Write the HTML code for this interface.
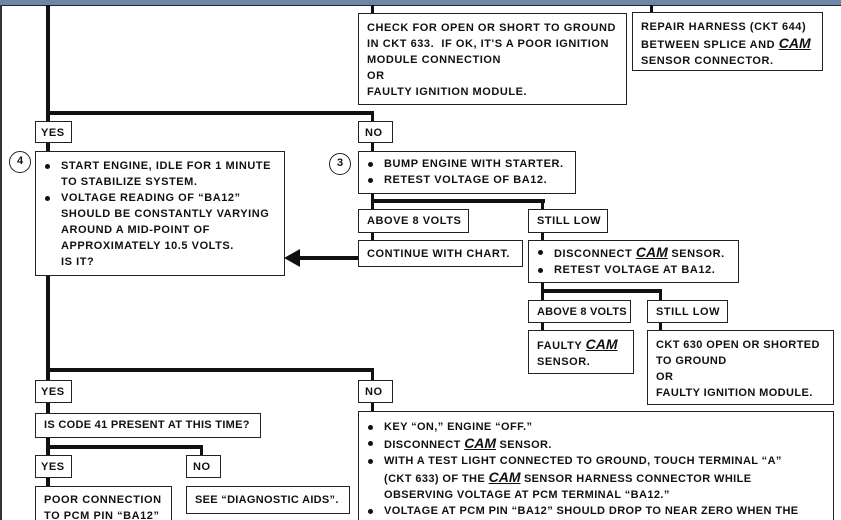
<!DOCTYPE html>
<html style="margin:0;width:841px;height:520px;overflow:hidden"><head><meta charset="utf-8"><style>
body{margin:0;width:841px;height:520px;overflow:hidden;background:#fff;position:relative;font-family:"Liberation Sans",sans-serif;font-weight:bold;font-size:11px;color:#111;}
.b{position:absolute;border:1.5px solid #222;box-sizing:border-box;background:#fff;line-height:16px;padding:3px 0 0 8px;white-space:nowrap;letter-spacing:0.55px;overflow:hidden}
.l{position:absolute;background:#111}
.c{position:absolute;border:1.5px solid #222;border-radius:50%;width:22px;height:22px;box-sizing:border-box;text-align:center;line-height:19px;background:#fff}
.bl{position:relative;padding-left:17px}
.bl:before{content:"";position:absolute;left:1px;top:6px;width:5px;height:5px;border-radius:50%;background:#111}
i{font-size:14px;text-decoration:underline;font-weight:bold;letter-spacing:0}
</style></head><body>
<div class="l" style="left:0;top:0;width:841px;height:5px;background:#6f86a6;border-bottom:1px solid #223"></div>
<div class="l" style="left:0;top:5px;width:2px;height:515px;background:#333"></div>
<div class="l" style="left:46px;top:5px;width:4px;height:515px"></div>
<div class="l" style="left:371px;top:5px;width:3px;height:9px"></div>
<div class="l" style="left:650px;top:5px;width:3px;height:8px"></div>
<div class="l" style="left:46px;top:111px;width:328px;height:4px"></div>
<div class="l" style="left:371px;top:111px;width:3px;height:42px"></div>
<div class="l" style="left:371px;top:192px;width:3px;height:50px"></div>
<div class="l" style="left:371px;top:199px;width:174px;height:4px"></div>
<div class="l" style="left:541px;top:199px;width:3px;height:43px"></div>
<div class="l" style="left:541px;top:281px;width:3px;height:21px"></div>
<div class="l" style="left:541px;top:289px;width:121px;height:4px"></div>
<div class="l" style="left:659px;top:289px;width:3px;height:13px"></div>
<div class="l" style="left:541px;top:320px;width:3px;height:12px"></div>
<div class="l" style="left:659px;top:320px;width:3px;height:12px"></div>
<div class="l" style="left:296px;top:256px;width:63px;height:4px"></div>
<div style="position:absolute;left:284px;top:249px;width:0;height:0;border-top:9px solid transparent;border-bottom:9px solid transparent;border-right:16px solid #111"></div>
<div class="l" style="left:46px;top:368px;width:328px;height:4px"></div>
<div class="l" style="left:371px;top:368px;width:3px;height:45px"></div>
<div class="l" style="left:46px;top:445px;width:157px;height:4px"></div>
<div class="l" style="left:200px;top:445px;width:3px;height:12px"></div>
<div class="b" style="left:358px;top:13px;width:269px;height:92px;padding-top:6px">CHECK FOR OPEN OR SHORT TO GROUND<br>IN CKT 633.&nbsp; IF OK, IT'S A POOR IGNITION<br>MODULE CONNECTION<br>OR<br>FAULTY IGNITION MODULE.</div>
<div class="b" style="left:632px;top:12px;width:191px;height:59px;padding-top:6px">REPAIR HARNESS (CKT 644)<br>BETWEEN SPLICE AND <i>CAM</i><br>SENSOR CONNECTOR.</div>
<div class="b" style="left:35px;top:121px;width:37px;height:22px;padding-left:5px">YES</div>
<div class="b" style="left:358px;top:121px;width:35px;height:22px;padding-left:6px">NO</div>
<div class="c" style="left:9px;top:151px">4</div>
<div class="b" style="left:35px;top:151px;width:250px;height:125px;padding-top:6px"><div class="bl">START ENGINE, IDLE FOR 1 MINUTE<br>TO STABILIZE SYSTEM.</div><div class="bl">VOLTAGE READING OF “BA12”<br>SHOULD BE CONSTANTLY VARYING<br>AROUND A MID-POINT OF<br>APPROXIMATELY 10.5 VOLTS.<br>IS IT?</div></div>
<div class="c" style="left:329px;top:153px">3</div>
<div class="b" style="left:358px;top:151px;width:218px;height:43px;padding-top:4px"><div class="bl">BUMP ENGINE WITH STARTER.</div><div class="bl">RETEST VOLTAGE OF BA12.</div></div>
<div class="b" style="left:358px;top:209px;width:111px;height:24px">ABOVE 8 VOLTS</div>
<div class="b" style="left:528px;top:209px;width:80px;height:24px">STILL LOW</div>
<div class="b" style="left:358px;top:240px;width:165px;height:27px;padding-top:5px">CONTINUE WITH CHART.</div>
<div class="b" style="left:528px;top:240px;width:211px;height:43px;padding-top:3px"><div class="bl">DISCONNECT <i>CAM</i> SENSOR.</div><div class="bl">RETEST VOLTAGE AT BA12.</div></div>
<div class="b" style="left:528px;top:300px;width:103px;height:23px;letter-spacing:0.2px">ABOVE 8 VOLTS</div>
<div class="b" style="left:647px;top:300px;width:81px;height:23px">STILL LOW</div>
<div class="b" style="left:528px;top:330px;width:106px;height:44px;padding-top:5px">FAULTY <i>CAM</i><br>SENSOR.</div>
<div class="b" style="left:647px;top:330px;width:187px;height:75px;padding-top:6px;letter-spacing:0.4px">CKT 630 OPEN OR SHORTED<br>TO GROUND<br>OR<br>FAULTY IGNITION MODULE.</div>
<div class="b" style="left:35px;top:380px;width:37px;height:23px;padding-left:5px">YES</div>
<div class="b" style="left:358px;top:380px;width:35px;height:23px;padding-left:6px">NO</div>
<div class="b" style="left:35px;top:413px;width:226px;height:25px;letter-spacing:0.3px">IS CODE 41 PRESENT AT THIS TIME?</div>
<div class="b" style="left:35px;top:455px;width:37px;height:23px;padding-left:5px">YES</div>
<div class="b" style="left:186px;top:455px;width:35px;height:23px;padding-left:6px">NO</div>
<div class="b" style="left:35px;top:486px;width:137px;height:40px;padding-top:5px">POOR CONNECTION<br>TO PCM PIN “BA12”</div>
<div class="b" style="left:186px;top:486px;width:164px;height:28px;padding-top:5px;letter-spacing:0.3px">SEE “DIAGNOSTIC AIDS”.</div>
<div class="b" style="left:358px;top:411px;width:476px;height:120px;padding-top:7px;letter-spacing:0.4px"><div class="bl">KEY “ON,” ENGINE “OFF.”</div><div class="bl">DISCONNECT <i>CAM</i> SENSOR.</div><div class="bl">WITH A TEST LIGHT CONNECTED TO GROUND, TOUCH TERMINAL “A”<br>(CKT 633) OF THE <i>CAM</i> SENSOR HARNESS CONNECTOR WHILE<br>OBSERVING VOLTAGE AT PCM TERMINAL “BA12.”</div><div class="bl">VOLTAGE AT PCM PIN “BA12” SHOULD DROP TO NEAR ZERO WHEN THE<br>TEST LIGHT IS TOUCHED TO CAM SENSOR CONNECTOR TERMINAL “A.”</div></div>
</body></html>
